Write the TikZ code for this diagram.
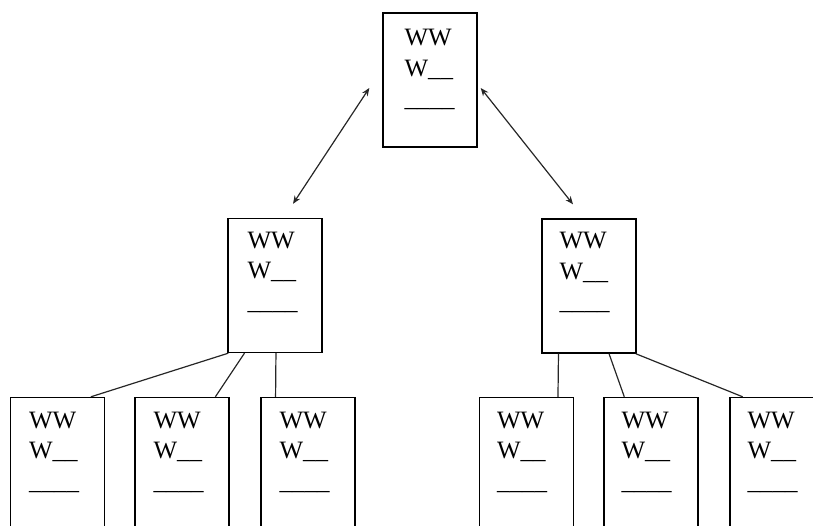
\documentclass[tikz,border=0pt]{standalone}
\usepackage{fontspec}
\setmainfont{Liberation Serif}
\usetikzlibrary{arrows.meta,calc}
\tikzset{
  card/.style={draw=black, line width=1.4pt, rectangle, inner sep=0pt,
    minimum width=94pt, minimum height=134pt},
  cardtext/.style={anchor=north west, inner sep=0pt, align=left,
    font=\fontsize{25}{30.5}\selectfont},
  link/.style={draw=black!85, line width=1.2pt},
  dbl/.style={draw=black!85, line width=1.2pt, {Stealth[length=8pt,width=6.5pt]}-{Stealth[length=8pt,width=6.5pt]}}
}
\newcommand{\mycard}[5]{%
  \node[card] (#1) at (#2,#3) {};
  \node[cardtext] (#1txt) at ($(#1.north west)+(#4,#5)$) {WW\\W\_\_\\\_\_\_\_};
}
\begin{document}
\begin{tikzpicture}[x=1pt,y=-1pt]
\useasboundingbox (0,0) rectangle (813,526);
\clip (0,0) rectangle (813,526);
\mycard{t}{430}{80}{22}{17}
\mycard{ml}{275}{285.5}{20}{14}
\mycard{mr}{589}{286}{18}{14}
\mycard{ba}{57.5}{464.5}{19}{15}
\mycard{bb}{182}{464.5}{19}{15}
\mycard{bc}{308}{464.5}{19}{15}
\mycard{bd}{526.5}{464.5}{18}{15}
\mycard{be}{651}{464.5}{18}{15}
\mycard{bf}{777}{464.5}{18}{15}
% arrows
\draw[dbl] ($(t.west)+(-13,8)$) -- ($(ml.north)+(18,-14)$);
\draw[dbl] ($(t.east)+(3,8)$) -- ($(mr.north)+(-16,-14)$);
% left links
\draw[link] ($(ml.south west)!0.01!(ml.south east)$) -- ($(ba.north west)!0.85!(ba.north east)$);
\draw[link] ($(ml.south west)!0.18!(ml.south east)$) -- ($(bb.north west)!0.85!(bb.north east)$);
\draw[link] ($(ml.south west)!0.51!(ml.south east)$) -- ($(bc.north west)!0.16!(bc.north east)$);
% right links
\draw[link] ($(mr.south west)!0.18!(mr.south east)$) -- ($(bd.north west)!0.83!(bd.north east)$);
\draw[link] ($(mr.south west)!0.71!(mr.south east)$) -- ($(be.north west)!0.22!(be.north east)$);
\draw[link] ($(mr.south west)!0.99!(mr.south east)$) -- ($(bf.north west)!0.14!(bf.north east)$);
\end{tikzpicture}
\end{document}
